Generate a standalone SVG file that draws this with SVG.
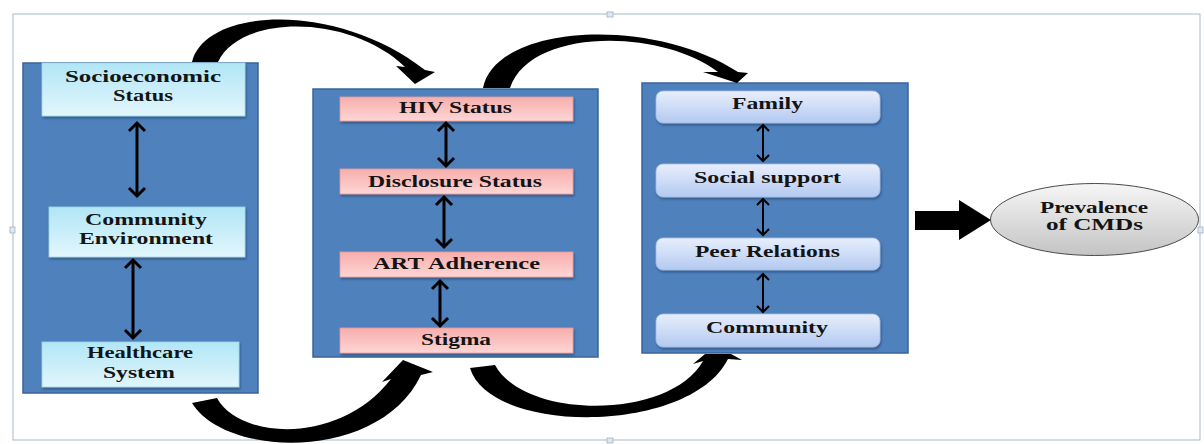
<svg xmlns="http://www.w3.org/2000/svg" width="1204" height="444" viewBox="0 0 1204 444">
  <style>
    .panel { fill: #4f81bd; stroke: #3a639a; stroke-width: 1.5; }
    .cyan { fill: url(#gCyan); stroke: #9fd6e8; stroke-width: 0.8; filter: url(#shadow); }
    .pink { fill: url(#gPink); stroke: #e89a98; stroke-width: 0.8; filter: url(#shadow); }
    .lblue { fill: url(#gBlue); stroke: #a5bde6; stroke-width: 0.8; filter: url(#shadow); }
    .lbl { font-family: "Liberation Serif", "Times New Roman", serif; font-weight: bold; font-size: 16px; fill: #141414; text-anchor: middle; }
    .dbl { stroke: #000; stroke-width: 3; fill: none; }
    .dbl-thin { stroke: #000; stroke-width: 2; fill: none; }
    .curve { fill: #000; }
    .frame { fill: none; stroke: #a7b8c8; stroke-width: 1; }
    .handle { fill: #dfe8f2; stroke: #9db1c6; stroke-width: 0.8; }
  </style>
  <defs>
    <linearGradient id="gCyan" x1="0" y1="0" x2="0" y2="1">
      <stop offset="0" stop-color="#b1e6f6"/>
      <stop offset="1" stop-color="#e2f6fc"/>
    </linearGradient>
    <linearGradient id="gPink" x1="0" y1="0" x2="0" y2="1">
      <stop offset="0" stop-color="#f7aeac"/>
      <stop offset="1" stop-color="#fdd6d5"/>
    </linearGradient>
    <linearGradient id="gBlue" x1="0" y1="0" x2="0" y2="1">
      <stop offset="0" stop-color="#e8effc"/>
      <stop offset="1" stop-color="#b3c9f1"/>
    </linearGradient>
    <linearGradient id="gGray" x1="0" y1="0" x2="0" y2="1">
      <stop offset="0" stop-color="#f6f6f6"/>
      <stop offset="1" stop-color="#c4c4c4"/>
    </linearGradient>
    <filter id="shadow" x="-5%" y="-20%" width="110%" height="150%">
      <feDropShadow dx="1" dy="2" stdDeviation="1" flood-color="#1c2f4a" flood-opacity="0.45"/>
    </filter>
    <marker id="chev" markerUnits="userSpaceOnUse" viewBox="-12 -12 24 24" markerWidth="24" markerHeight="24" refX="0" refY="0" orient="auto-start-reverse">
      <path d="M-8,-8 L0,0 L-8,8" fill="none" stroke="#000" stroke-width="3"/>
    </marker>
    <marker id="chevS" markerUnits="userSpaceOnUse" viewBox="-12 -12 24 24" markerWidth="24" markerHeight="24" refX="0" refY="0" orient="auto-start-reverse">
      <path d="M-6,-6 L0,0 L-6,6" fill="none" stroke="#000" stroke-width="2"/>
    </marker>
  </defs>

  <!-- outer frame with its handles -->
  <g id="frame">
    <rect class="frame" x="13" y="14" width="1187" height="426"/>
    <rect class="handle" x="607" y="12" width="6" height="5"/>
    <rect class="handle" x="10" y="227" width="5" height="6"/>
    <rect class="handle" x="607" y="438" width="6" height="5"/>
    <rect class="handle" x="1198" y="227" width="5" height="6"/>
  </g>

  <!-- left panel: structural factors -->
  <g id="panel-structural">
    <rect class="panel" x="23" y="63" width="235" height="330"/>
  </g>
  <g id="node-socioeconomic">
    <rect class="cyan" x="42" y="63" width="203" height="53"/>
    <text class="lbl" x="143" y="82" textLength="156" lengthAdjust="spacingAndGlyphs">Socioeconomic</text>
    <text class="lbl" x="143" y="100.5" textLength="60" lengthAdjust="spacingAndGlyphs">Status</text>
  </g>
  <g id="node-community-env">
    <rect class="cyan" x="49" y="207" width="196" height="50"/>
    <text class="lbl" x="146" y="225" textLength="122" lengthAdjust="spacingAndGlyphs">Community</text>
    <text class="lbl" x="146" y="244" textLength="134" lengthAdjust="spacingAndGlyphs">Environment</text>
  </g>
  <g id="node-healthcare">
    <rect class="cyan" x="42" y="342" width="197" height="45"/>
    <text class="lbl" x="140" y="358" textLength="106" lengthAdjust="spacingAndGlyphs">Healthcare</text>
    <text class="lbl" x="139" y="378" textLength="72" lengthAdjust="spacingAndGlyphs">System</text>
  </g>

  <!-- middle panel: HIV-related factors -->
  <g id="panel-hiv">
    <rect class="panel" x="313" y="89" width="285" height="268"/>
  </g>
  <g id="node-hiv-status">
    <rect class="pink" x="340" y="97" width="233" height="24"/>
    <text class="lbl" x="455.5" y="113" textLength="113" lengthAdjust="spacingAndGlyphs">HIV Status</text>
  </g>
  <g id="node-disclosure">
    <rect class="pink" x="340" y="169" width="233" height="25"/>
    <text class="lbl" x="455" y="187" textLength="174" lengthAdjust="spacingAndGlyphs">Disclosure Status</text>
  </g>
  <g id="node-art">
    <rect class="pink" x="340" y="252" width="233" height="25"/>
    <text class="lbl" x="456.5" y="269" textLength="167" lengthAdjust="spacingAndGlyphs">ART Adherence</text>
  </g>
  <g id="node-stigma">
    <rect class="pink" x="340" y="328" width="233" height="25"/>
    <text class="lbl" x="456" y="345" textLength="70" lengthAdjust="spacingAndGlyphs">Stigma</text>
  </g>

  <!-- right panel: social factors -->
  <g id="panel-social">
    <rect class="panel" x="642" y="83" width="266" height="270"/>
  </g>
  <g id="node-family">
    <rect class="lblue" x="656" y="91" width="224" height="32" rx="7"/>
    <text class="lbl" x="767.5" y="109" textLength="71" lengthAdjust="spacingAndGlyphs">Family</text>
  </g>
  <g id="node-social-support">
    <rect class="lblue" x="656" y="164" width="224" height="33" rx="7"/>
    <text class="lbl" x="767.5" y="183" textLength="147" lengthAdjust="spacingAndGlyphs">Social support</text>
  </g>
  <g id="node-peer">
    <rect class="lblue" x="656" y="238" width="224" height="32" rx="7"/>
    <text class="lbl" x="767.5" y="257" textLength="145" lengthAdjust="spacingAndGlyphs">Peer Relations</text>
  </g>
  <g id="node-community">
    <rect class="lblue" x="656" y="314" width="224" height="33" rx="7"/>
    <text class="lbl" x="767" y="333" textLength="122" lengthAdjust="spacingAndGlyphs">Community</text>
  </g>

  <!-- outcome -->
  <g id="node-outcome">
    <ellipse cx="1094.5" cy="219.5" rx="104" ry="36" fill="url(#gGray)" stroke="#4a4a4a" stroke-width="1"/>
    <text class="lbl" x="1094" y="213" textLength="108" lengthAdjust="spacingAndGlyphs">Prevalence</text>
    <text class="lbl" x="1094.5" y="230" textLength="97" lengthAdjust="spacingAndGlyphs">of CMDs</text>
  </g>

  <!-- connectors: curved flow arrows between panels, double arrows inside panels, block arrow to outcome -->
  <g id="connectors">
    <path class="curve" d="M192,62 C205,8 335,0 425,70 L435,72 L415,84 L396,66 L405,67 C350,14 240,14 218,62 Z"/>
    <path class="curve" d="M483,88 C495,25 650,15 738,72 L748,73 L737,83 L703,72 L718,72 C660,28 530,28 510,88 Z"/>
    <path class="curve" d="M217,398 C240,440 340,445 391,379 L382,382 L403,360 L433,372 L421,375 C380,462 225,458 192,403 Z"/>
    <path class="curve" d="M470,368 C490,435 690,435 728,359 L742,360 L731,354 L705,354 L693,364 L703,361 C670,420 525,420 495,365 Z"/>

    <line class="dbl" x1="137" y1="123" x2="137" y2="196" marker-start="url(#chev)" marker-end="url(#chev)"/>
    <line class="dbl" x1="133" y1="260" x2="133" y2="338" marker-start="url(#chev)" marker-end="url(#chev)"/>

    <line class="dbl" x1="446" y1="123" x2="446" y2="166" marker-start="url(#chev)" marker-end="url(#chev)"/>
    <line class="dbl" x1="444" y1="197" x2="444" y2="247" marker-start="url(#chev)" marker-end="url(#chev)"/>
    <line class="dbl" x1="440" y1="281" x2="440" y2="326" marker-start="url(#chev)" marker-end="url(#chev)"/>

    <line class="dbl-thin" x1="763" y1="125" x2="763" y2="161" marker-start="url(#chevS)" marker-end="url(#chevS)"/>
    <line class="dbl-thin" x1="763" y1="199" x2="763" y2="235" marker-start="url(#chevS)" marker-end="url(#chevS)"/>
    <line class="dbl-thin" x1="763" y1="274" x2="763" y2="312" marker-start="url(#chevS)" marker-end="url(#chevS)"/>

    <polygon fill="#000" points="915,211 959,211 959,200 991,220 959,240 959,230 915,230"/>
  </g>
</svg>
